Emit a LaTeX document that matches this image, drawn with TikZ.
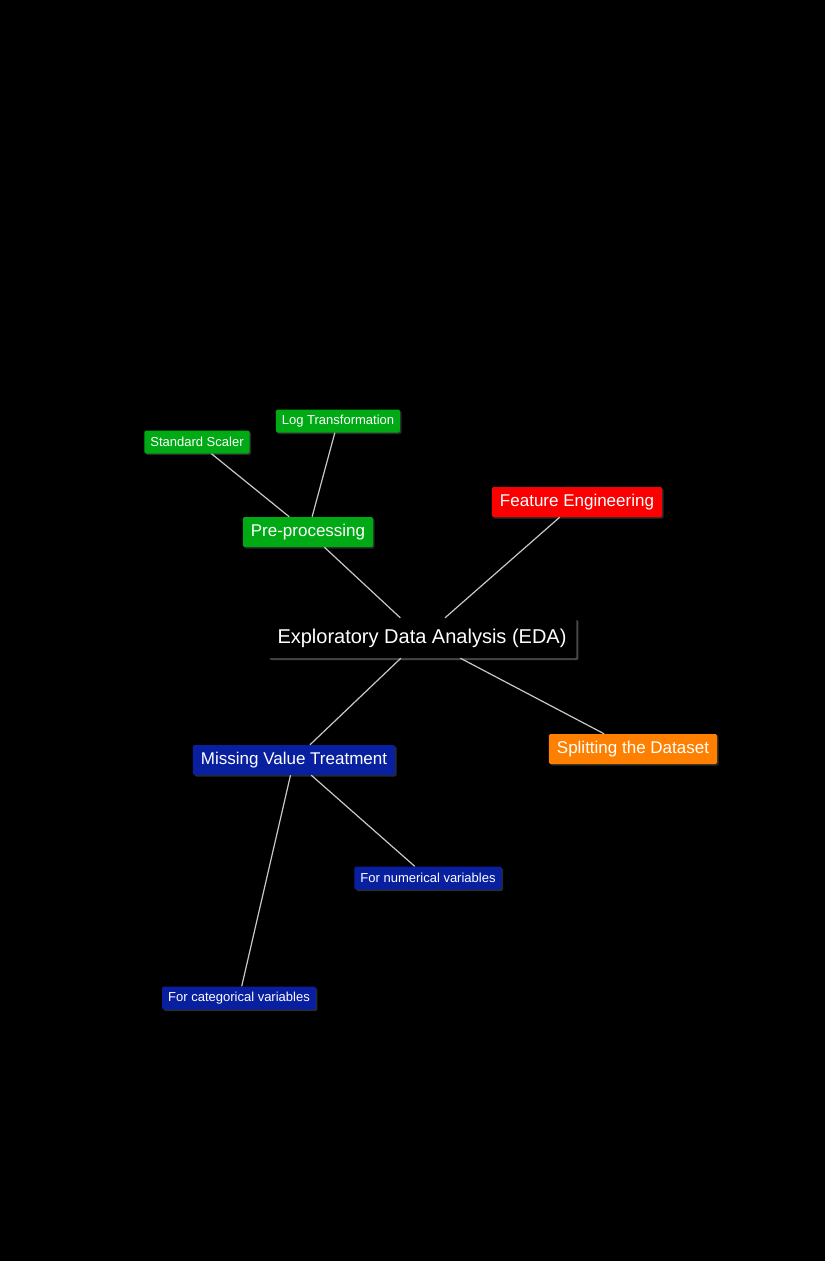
\documentclass[tikz,border=0pt]{standalone}
\usepackage{fontspec}
\setmainfont{Liberation Sans}
\usepackage{tikz}
\usetikzlibrary{
    shadows
}
\definecolor{edagreen}{RGB}{0,170,20}
\definecolor{edared}{RGB}{250,0,0}
\definecolor{edaorange}{RGB}{255,128,0}
\definecolor{edablue}{RGB}{8,32,160}
\definecolor{linkgray}{RGB}{200,200,200}
\definecolor{shadowgray}{RGB}{70,70,70}
\tikzset{
    rootbox/.style={
        rectangle,
        rounded corners=1.5pt,
        fill=black,
        text=white,
        inner xsep=10pt,
        minimum height=40pt,
        font=\fontsize{20}{24}\selectfont,
        drop shadow={shadow xshift=2pt, shadow yshift=-2pt, fill=shadowgray, opacity=1}
    },
    topicbox/.style={
        rectangle,
        rounded corners=1.5pt,
        text=white,
        inner xsep=8pt,
        minimum height=30pt,
        font=\fontsize{17}{20}\selectfont,
        drop shadow={shadow xshift=1.5pt, shadow yshift=-1.5pt, fill=shadowgray, opacity=0.6}
    },
    leafbox/.style={
        rectangle,
        rounded corners=1.5pt,
        text=white,
        inner xsep=6pt,
        minimum height=23pt,
        font=\fontsize{13}{15}\selectfont,
        drop shadow={shadow xshift=1.5pt, shadow yshift=-1.5pt, fill=shadowgray, opacity=0.6}
    },
    link/.style={
        draw=linkgray,
        line width=1.2pt
    }
}
\begin{document}
\begin{tikzpicture}[x=1pt, y=-1pt]
\fill[black] (0,0) rectangle (825,1261);
\useasboundingbox (0,0) rectangle (825,1261);

\node[rootbox] (eda) at (422,638) {Exploratory Data Analysis (EDA)};

\node[topicbox, fill=edagreen] (pre) at (308,532) {Pre-processing};
\node[leafbox, fill=edagreen] (scaler) at (197,442) {Standard Scaler};
\node[leafbox, fill=edagreen] (logt) at (338,421) {Log Transformation};

\node[topicbox, fill=edared] (feat) at (577,502) {Feature Engineering};
\node[topicbox, fill=edaorange] (split) at (633,749) {Splitting the Dataset};

\node[topicbox, fill=edablue] (missing) at (294,760) {Missing Value Treatment};
\node[leafbox, fill=edablue] (numvar) at (428,878) {For numerical variables};
\node[leafbox, fill=edablue] (catvar) at (239,998) {For categorical variables};

\draw[link] (eda) -- (pre);
\draw[link] (eda) -- (feat);
\draw[link] (eda) -- (missing);
\draw[link] (eda) -- (split);
\draw[link] (pre) -- (scaler);
\draw[link] (pre) -- (logt);
\draw[link] (missing) -- (numvar);
\draw[link] (missing) -- (catvar);
\end{tikzpicture}
\end{document}
